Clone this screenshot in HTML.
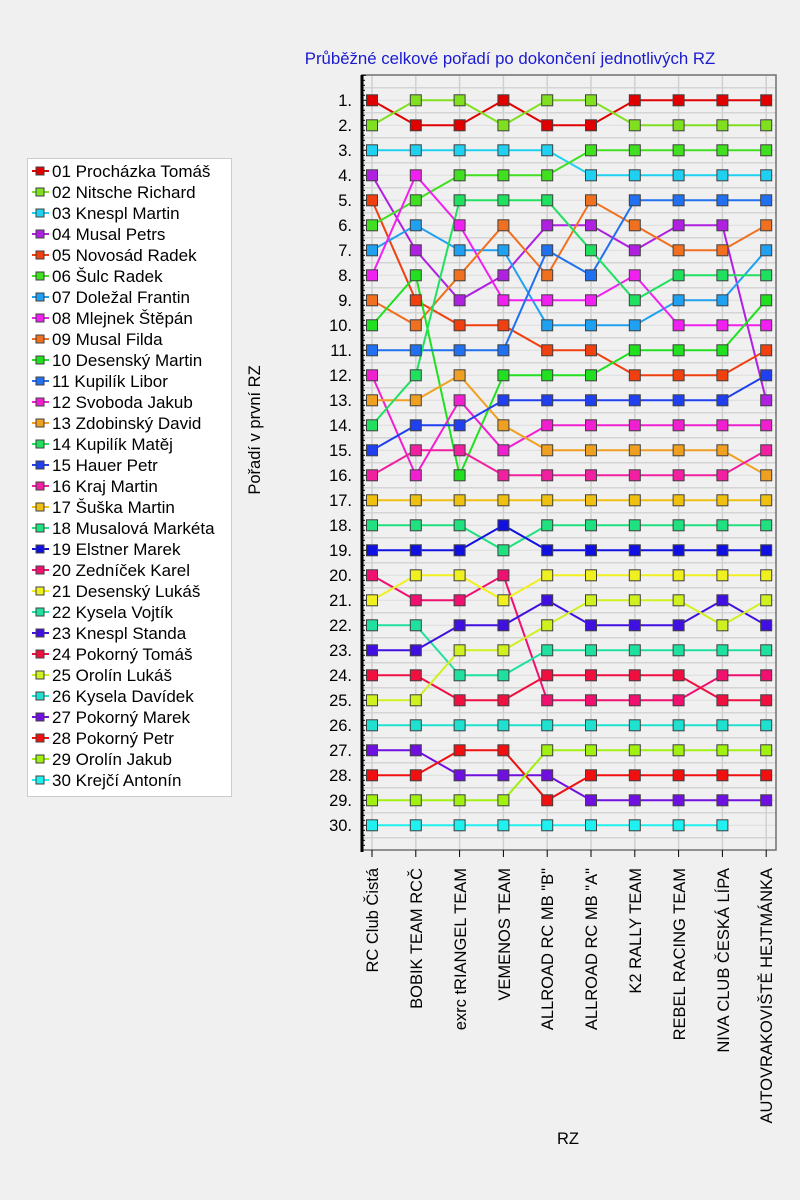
<!DOCTYPE html>
<html><head><meta charset="utf-8"><style>
body{margin:0;background:#f0f0f0;}
svg{display:block;font-family:"Liberation Sans",sans-serif;}
</style></head><body>
<svg id="s" width="800" height="1200" xmlns="http://www.w3.org/2000/svg">
<rect width="800" height="1200" fill="#f0f0f0"/>
<text x="510" y="64" text-anchor="middle" font-size="16.8" fill="#1a1ad0">Průběžné celkové pořadí po dokončení jednotlivých RZ</text>
<g id="grid"></g>
<rect x="362" y="75" width="414" height="775" fill="none" stroke="#707070" stroke-width="1.5"/>
<line x1="362" y1="75" x2="362" y2="852" stroke="#000" stroke-width="3"/>
<g id="ticks"></g>
<g font-size="16.5" fill="#000" text-anchor="end">
<text x="352" y="106">1.</text><text x="352" y="131">2.</text><text x="352" y="156">3.</text><text x="352" y="181">4.</text><text x="352" y="206">5.</text><text x="352" y="231">6.</text><text x="352" y="256">7.</text><text x="352" y="281">8.</text><text x="352" y="306">9.</text><text x="352" y="331">10.</text><text x="352" y="356">11.</text><text x="352" y="381">12.</text><text x="352" y="406">13.</text><text x="352" y="431">14.</text><text x="352" y="456">15.</text><text x="352" y="481">16.</text><text x="352" y="506">17.</text><text x="352" y="531">18.</text><text x="352" y="556">19.</text><text x="352" y="581">20.</text><text x="352" y="606">21.</text><text x="352" y="631">22.</text><text x="352" y="656">23.</text><text x="352" y="681">24.</text><text x="352" y="706">25.</text><text x="352" y="731">26.</text><text x="352" y="756">27.</text><text x="352" y="781">28.</text><text x="352" y="806">29.</text><text x="352" y="831">30.</text>
</g>
<g font-size="16.5" fill="#000" text-anchor="end">
<text transform="translate(378,868) rotate(-90)">RC Club Čistá</text>
<text transform="translate(422,868) rotate(-90)">BOBIK TEAM RCČ</text>
<text transform="translate(466,868) rotate(-90)">exrc tRIANGEL TEAM</text>
<text transform="translate(510,868) rotate(-90)">VEMENOS TEAM</text>
<text transform="translate(553,868) rotate(-90)">ALLROAD RC MB "B"</text>
<text transform="translate(597,868) rotate(-90)">ALLROAD RC MB "A"</text>
<text transform="translate(641,868) rotate(-90)">K2 RALLY TEAM</text>
<text transform="translate(685,868) rotate(-90)">REBEL RACING TEAM</text>
<text transform="translate(729,868) rotate(-90)">NIVA CLUB ČESKÁ LÍPA</text>
<text transform="translate(772,868) rotate(-90)">AUTOVRAKOVIŠTĚ HEJTMÁNKA</text>
</g>
<text x="568" y="1144" font-size="16.5" text-anchor="middle">RZ</text>
<text transform="translate(260,430) rotate(-90)" font-size="16.5" text-anchor="middle">Pořadí v první RZ</text>
<rect x="27.5" y="158.5" width="204" height="638" fill="#fff" stroke="#a0a0a0" stroke-dasharray="1,1"/>
<g id="leg"></g>
<g font-size="17" fill="#000">
<text x="52" y="177">01 Procházka Tomáš</text><text x="52" y="198">02 Nitsche Richard</text><text x="52" y="219">03 Knespl Martin</text><text x="52" y="240">04 Musal Petrs</text><text x="52" y="261">05 Novosád Radek</text><text x="52" y="282">06 Šulc Radek</text><text x="52" y="303">07 Doležal Frantin</text><text x="52" y="324">08 Mlejnek Štěpán</text><text x="52" y="345">09 Musal Filda</text><text x="52" y="366">10 Desenský Martin</text><text x="52" y="387">11 Kupilík Libor</text><text x="52" y="408">12 Svoboda Jakub</text><text x="52" y="429">13 Zdobinský David</text><text x="52" y="450">14 Kupilík Matěj</text><text x="52" y="471">15 Hauer Petr</text><text x="52" y="492">16 Kraj Martin</text><text x="52" y="513">17 Šuška Martin</text><text x="52" y="534">18 Musalová Markéta</text><text x="52" y="555">19 Elstner Marek</text><text x="52" y="576">20 Zedníček Karel</text><text x="52" y="597">21 Desenský Lukáš</text><text x="52" y="618">22 Kysela Vojtík</text><text x="52" y="639">23 Knespl Standa</text><text x="52" y="660">24 Pokorný Tomáš</text><text x="52" y="681">25 Orolín Lukáš</text><text x="52" y="702">26 Kysela Davídek</text><text x="52" y="723">27 Pokorný Marek</text><text x="52" y="744">28 Pokorný Petr</text><text x="52" y="765">29 Orolín Jakub</text><text x="52" y="786">30 Krejčí Antonín</text>
</g>
<g id="ser"></g>
</svg>
<script>
var NS="http://www.w3.org/2000/svg";
function el(p,t,a){var e=document.createElementNS(NS,t);for(var k in a)e.setAttribute(k,a[k]);p.appendChild(e);return e;}
var g=document.getElementById("grid"),tk=document.getElementById("ticks");
for(var i=0;i<=61;i++){var y=75.3+12.5*i;if(y>850)break;el(g,"line",{x1:363,x2:776,y1:y,y2:y,stroke:i%2?"#d4d4d4":"#dcdcdc","stroke-width":i%2?1.5:1});}
for(var i=0;i<10;i++){var x=372+43.8*i;el(g,"line",{x1:x,x2:x,y1:75,y2:850,stroke:"#d0d0d0","stroke-width":1.5});el(tk,"line",{x1:x,x2:x,y1:850,y2:857,stroke:"#000"});}
for(var i=0;i<=155;i++){var y=75.3+5*i;if(y>850)break;el(tk,"line",{x1:362,x2:i%5==0?366:365,y1:y,y2:y,stroke:"#000","stroke-width":1});}
var C=["#e00000","#80e020","#20d0f0","#b020e0","#f04010","#40e020","#20a0f0","#f020f0","#f07020","#20e020","#2070f0","#f020d0","#f0a020","#20e060","#2040f0","#f020a0","#f0c010","#20e080","#1010e0","#f01070","#f0f020","#20e0a0","#4010e0","#f01040","#d0f020","#20e0d0","#7010e0","#f01010","#a0f010","#20f0f0"];
var D=[[1,2,2,1,2,2,1,1,1,1],[2,1,1,2,1,1,2,2,2,2],[3,3,3,3,3,4,4,4,4,4],[4,7,9,8,6,6,7,6,6,13],[5,9,10,10,11,11,12,12,12,11],[6,5,4,4,4,3,3,3,3,3],[7,6,7,7,10,10,10,9,9,7],[8,4,6,9,9,9,8,10,10,10],[9,10,8,6,8,5,6,7,7,6],[10,8,16,12,12,12,11,11,11,9],[11,11,11,11,7,8,5,5,5,5],[12,16,13,15,14,14,14,14,14,14],[13,13,12,14,15,15,15,15,15,16],[14,12,5,5,5,7,9,8,8,8],[15,14,14,13,13,13,13,13,13,12],[16,15,15,16,16,16,16,16,16,15],[17,17,17,17,17,17,17,17,17,17],[18,18,18,19,18,18,18,18,18,18],[19,19,19,18,19,19,19,19,19,19],[20,21,21,20,25,25,25,25,24,24],[21,20,20,21,20,20,20,20,20,20],[22,22,24,24,23,23,23,23,23,23],[23,23,22,22,21,22,22,22,21,22],[24,24,25,25,24,24,24,24,25,25],[25,25,23,23,22,21,21,21,22,21],[26,26,26,26,26,26,26,26,26,26],[27,27,28,28,28,29,29,29,29,29],[28,28,27,27,29,28,28,28,28,28],[29,29,29,29,27,27,27,27,27,27],[30,30,30,30,30,30,30,30,30]];
var s=document.getElementById("ser"),L=document.getElementById("leg");
D.forEach(function(d,k){var p=d.map(function(r,i){return (372+43.8*i)+","+(75.3+25*r);}).join(" ");
el(s,"polyline",{points:p,fill:"none",stroke:C[k],"stroke-width":2});});
D.forEach(function(d,k){d.forEach(function(r,i){el(s,"rect",{x:372+43.8*i-5.5,y:75.3+25*r-5.5,width:11,height:11,fill:C[k],stroke:"#404040","stroke-width":1});});
var y=171+21*k;el(L,"line",{x1:32,x2:49,y1:y,y2:y,stroke:C[k],"stroke-width":2});el(L,"rect",{x:36,y:y-4,width:8,height:8,fill:C[k],stroke:"#404040","stroke-width":1});});
</script>
</body></html>
